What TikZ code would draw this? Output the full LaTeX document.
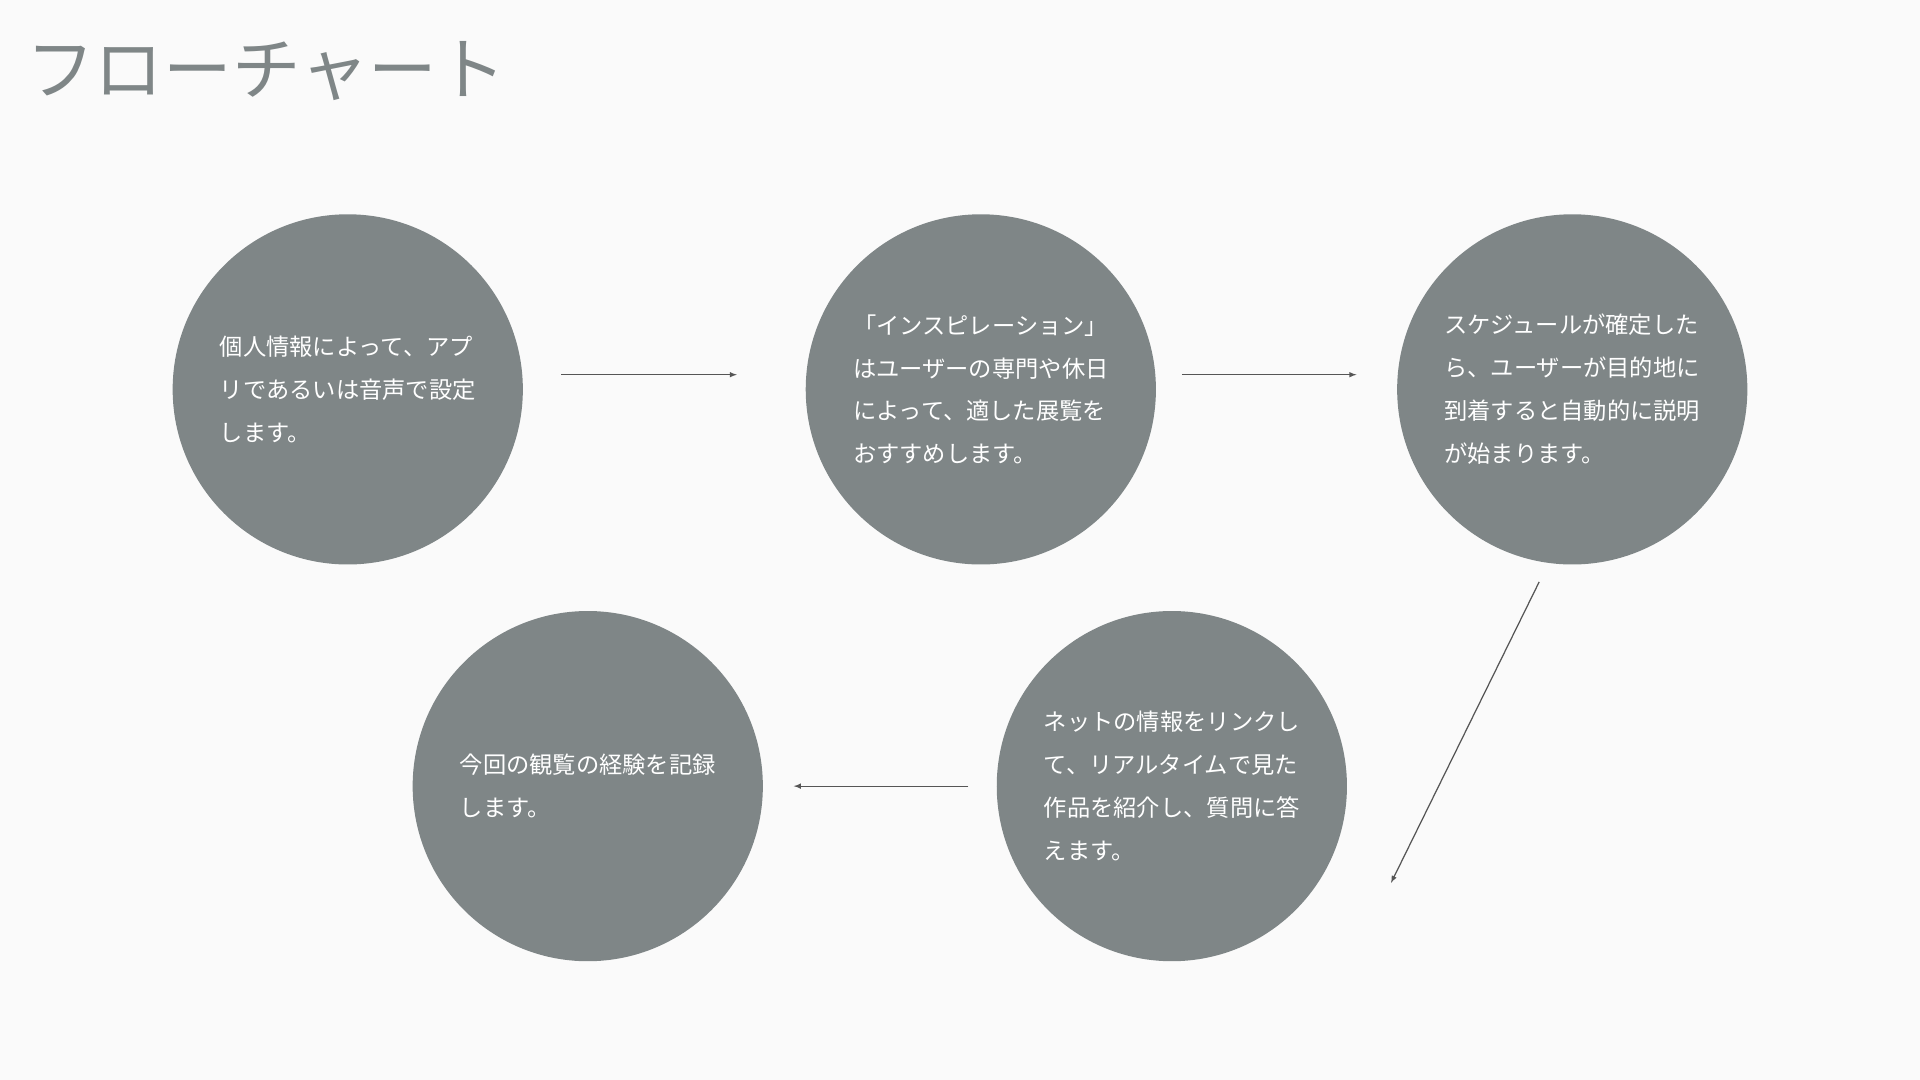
\documentclass[tikz,border=0pt]{standalone}
\usepackage{fontspec}
\setmainfont{Noto Sans CJK JP}
\definecolor{bgc}{HTML}{FAFAFA}
\definecolor{circc}{HTML}{7F8687}
\definecolor{arrc}{HTML}{555555}
\tikzset{
    stage/.style={circle, fill=circc, minimum size=286pt, inner sep=0pt},
    stagetext/.style={text=white, align=left, font=\fontsize{19}{35}\selectfont},
    flow/.style={->, >=latex, draw=arrc, line width=1pt}
}

\begin{document}
\begin{tikzpicture}[x=1pt, y=-1pt]
    \fill[bgc] (0,0) rectangle (1568,882);
    \useasboundingbox (0,0) rectangle (1568,882);

    \node[anchor=west, text=circc, font=\fontsize{56}{60}\selectfont] (title) at (18,58) {フローチャート};

    \node[stage] (c1) at (284,318) {};
    \node[stage] (c2) at (801,318) {};
    \node[stage] (c3) at (1284,318) {};
    \node[stage] (c4) at (957,642) {};
    \node[stage] (c5) at (480,642) {};

    \node[stagetext] (t1) at (c1) {個人情報によって、アプ\\リであるいは音声で設定\\します。};
    \node[stagetext] (t2) at (c2) {「インスピレーション」\\はユーザーの専門や休日\\によって、適した展覧を\\おすすめします。};
    \node[stagetext] (t3) at (c3) {スケジュールが確定した\\ら、ユーザーが目的地に\\到着すると自動的に説明\\が始まります。};
    \node[stagetext] (t4) at (c4) {ネットの情報をリンクし\\て、リアルタイムで見た\\作品を紹介し、質問に答\\えます。};
    \node[stagetext] (t5) at (c5) {今回の観覧の経験を記録\\します。};

    \draw[flow] ([xshift=31pt, yshift=12pt]c1.east) -- ([xshift=-56pt, yshift=12pt]c2.west);
    \draw[flow] ([xshift=21pt, yshift=12pt]c2.east) -- ([xshift=-33pt, yshift=12pt]c3.west);
    \draw[flow] ([xshift=-27pt, yshift=-14pt]c3.south) -- ([xshift=179pt, yshift=-79pt]c4.center);
    \draw[flow] ([xshift=-23pt]c4.west) -- ([xshift=25pt]c5.east);
\end{tikzpicture}
\end{document}
